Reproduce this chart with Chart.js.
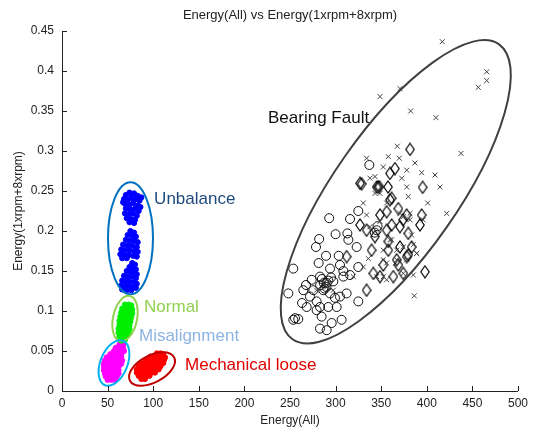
<!DOCTYPE html>
<html>
<head>
<meta charset="utf-8">
<script src="https://cdn.jsdelivr.net/npm/chart.js@4.4.1/dist/chart.umd.min.js"></script>
<style>
  html, body { margin: 0; padding: 0; background: #fff; }
  #plot { display: block; }
</style>
</head>
<body>
<canvas id="plot" width="533" height="432"></canvas>
<script>
// Energy scatter: fault classes by total energy vs 1x+8x rpm energy

const xTicks = [0, 50, 100, 150, 200, 250, 300, 350, 400, 450, 500];
const yTicks = [0, 0.05, 0.1, 0.15, 0.2, 0.25, 0.3, 0.35, 0.4, 0.45];

// Unbalance (three blobs)
const unbalancePts = [
    [70,0.245],[74,0.248],[79,0.247],[83,0.244],[68,0.240],[72,0.239],[77,0.241],[81,0.240],[85,0.238],
    [69,0.234],[74,0.233],[78,0.235],[83,0.232],[86,0.230],[70,0.228],[75,0.227],[80,0.228],[84,0.225],
    [69,0.222],[73,0.221],[78,0.222],[82,0.219],[71,0.216],[76,0.215],[80,0.214],[74,0.211],[79,0.210],
    [67,0.236],[87,0.242],[76,0.244],
    [75,0.200],[79,0.198],[72,0.195],[77,0.194],[81,0.193],[70,0.189],[74,0.188],[79,0.188],[83,0.186],
    [67,0.183],[72,0.182],[77,0.182],[82,0.180],[65,0.177],[69,0.176],[74,0.176],[79,0.175],[83,0.174],
    [64,0.171],[68,0.170],[73,0.170],[78,0.169],[82,0.168],[66,0.166],[71,0.166],
    [77,0.160],[80,0.158],[74,0.155],[78,0.154],[81,0.152],[71,0.150],[75,0.149],[79,0.148],[82,0.146],
    [68,0.144],[72,0.143],[77,0.143],[81,0.141],[66,0.138],[70,0.137],[74,0.137],[79,0.136],[82,0.134],
    [65,0.132],[69,0.131],[73,0.131],[77,0.130],[81,0.129],[66,0.127],[71,0.126],[76,0.126]
];

const normalPts = [
    [69,0.108],[73,0.108],[76,0.107],
    [66,0.103],[70,0.103],[74,0.104],[77,0.102],
    [65,0.098],[69,0.098],[73,0.099],[77,0.097],
    [64,0.093],[68,0.093],[72,0.094],[76,0.092],
    [63,0.088],[67,0.088],[71,0.089],[75,0.087],
    [63,0.083],[67,0.083],[71,0.084],[74,0.082],
    [62,0.078],[66,0.078],[70,0.079],[74,0.077],
    [62,0.073],[66,0.073],[70,0.074],[73,0.072],
    [63,0.068],[67,0.068],[71,0.069],
    [65,0.063],[69,0.064]
];

const misalignPts = [
    [63,0.058],[67,0.058],
    [59,0.054],[63,0.054],[67,0.054],
    [57,0.050],[61,0.050],[65,0.050],[68,0.050],
    [53,0.046],[57,0.046],[61,0.046],[65,0.046],
    [49,0.042],[53,0.042],[57,0.042],[61,0.042],[65,0.042],
    [47,0.038],[51,0.038],[55,0.038],[59,0.038],[63,0.038],[66,0.038],
    [46,0.034],[50,0.034],[54,0.034],[58,0.034],[62,0.034],[65,0.034],
    [46,0.030],[50,0.030],[54,0.030],[58,0.030],[62,0.030],
    [46,0.026],[50,0.026],[54,0.026],[58,0.026],[62,0.026],
    [47,0.022],[51,0.022],[55,0.022],[59,0.022],[62,0.022],
    [48,0.018],[52,0.018],[56,0.018],[60,0.018],
    [50,0.014],[54,0.014],[58,0.014]
];

const loosePts = [
    [104,0.047],[108,0.047],[111,0.046],
    [97,0.043],[101,0.043],[105,0.043],[109,0.043],[113,0.042],
    [92,0.039],[96,0.039],[100,0.039],[104,0.039],[108,0.039],[112,0.039],
    [87,0.035],[91,0.035],[95,0.035],[99,0.035],[103,0.035],[107,0.035],[111,0.035],
    [84,0.031],[88,0.031],[92,0.031],[96,0.031],[100,0.031],[104,0.031],[108,0.031],
    [82,0.027],[86,0.027],[90,0.027],[94,0.027],[98,0.027],[102,0.027],[106,0.027],
    [82,0.023],[86,0.023],[90,0.023],[94,0.023],[98,0.023],[102,0.023],
    [84,0.019],[88,0.019],[92,0.019],[96,0.019],
    [87,0.015],[91,0.015]
];

// Bearing fault, three measurement sets
const bearingO = [
    [337,0.2825],[293,0.216],[315.8,0.215],[324.9,0.225],[300,0.196],[312.9,0.197],[314,0.189],[282,0.19],
    [278.5,0.18],[289.5,0.169],[303.4,0.169],[304.8,0.1575],[293.9,0.153],[281.4,0.16],[253.6,0.153],
    [248.2,0.122],[263.2,0.11],[267.5,0.1325],[273.8,0.139],[282.9,0.143],[290.2,0.135],[297.5,0.137],
    [308.5,0.143],[315.8,0.145],[324.9,0.155],[345,0.201],[346,0.206],[343,0.198],[304.8,0.118],
    [312.1,0.122],[301.2,0.105],[282.9,0.105],[279.2,0.101],[284.7,0.093],[295.7,0.085],[306.6,0.089],
    [282.9,0.078],[290.2,0.076],[253.6,0.089],[259.1,0.09],[255.5,0.091],[324.9,0.112],[271.9,0.118],
    [275.6,0.126],[286.5,0.126],[293.9,0.122],[279.2,0.112],[268.3,0.105],[323.1,0.18],[308.5,0.15],
    [264.6,0.126],[292,0.105],[299.3,0.1165],[287,0.135],[290,0.13],[285,0.14],[292,0.138],[288,0.128],
    [283,0.132],[295,0.142]
];

const bearingD = [
    [326.8,0.2596],[348,0.2554],[361.5,0.241],[381.6,0.302],[365.1,0.278],[395.5,0.2546],[394.4,0.22],
    [368.8,0.228],[356,0.224],[377.9,0.22],[348.7,0.22],[326.8,0.2075],[334,0.201],[343.2,0.193],
    [356,0.201],[361.5,0.2075],[370.6,0.2054],[379.7,0.197],[392.5,0.2075],[398,0.149],[378,0.168],
    [367,0.164],[352.3,0.1575],[348.7,0.143],[341.4,0.147],[334,0.126],[357.8,0.176],[370.6,0.18],
    [383.4,0.18],[363.3,0.143],[374.3,0.147],[312.1,0.168],[357.8,0.187],[339.5,0.176],[374,0.214],
    [359.6,0.239],[345,0.255],[379.7,0.17],[368.8,0.1575],[359.6,0.272],[328.6,0.259],[346.8,0.255],
    [357.5,0.255]
];

const bearingX = [
    [417,0.4366],[465.7,0.399],[465.7,0.388],[456.5,0.3796],[370.6,0.378],[348.7,0.368],[382.3,0.35],
    [410,0.3417],[367.7,0.306],[437.5,0.297],[334,0.291],[357.8,0.293],[352.3,0.28],[387,0.285],
    [394.4,0.273],[409,0.27],[414.5,0.255],[378,0.276],[372.5,0.266],[337.7,0.266],[343.2,0.268],
    [378,0.255],[401,0.235],[421.8,0.222],[379.7,0.243],[383.4,0.195],[389,0.172],[386.3,0.119],
    [396,0.214],[381.6,0.222],[374.2,0.18],[359.6,0.189],[352.3,0.164],[367,0.164],[345,0.143],
    [356,0.139],[374.2,0.147],[348.7,0.247],[369.8,0.291],[330.4,0.235],[334,0.22],[356,0.235],
    [381.6,0.214],[385.2,0.183],[388.9,0.172],[361.5,0.189],[352.3,0.176],[330.4,0.155],[335.9,0.1655],
    [356,0.16],[385.2,0.145],[352.3,0.143],[319.4,0.143],[312.1,0.147],[286.5,0.135],[290.2,0.13],
    [279.2,0.126],[297.5,0.126],[337.7,0.2054],[348.7,0.212],[367,0.176],[378,0.164],[370.6,0.222],
    [374.3,0.218],[343.2,0.247]
];

// group outlines (centre in data units, radii in px)
const groupRings = [
    { cx: 75.1, cy: 0.191, rx: 22.5, ry: 56, rot: 0, color: '#0070C0' },
    { cx: 69.1, cy: 0.0906, rx: 12, ry: 23, rot: 12, color: '#92D050' },
    { cx: 57, cy: 0.035, rx: 13.5, ry: 24, rot: 22, color: '#00B0F0' },
    { cx: 98.7, cy: 0.0275, rx: 25, ry: 13.5, rot: -28, color: '#C00000' },
    { cx: 366, cy: 0.249, rx: 180, ry: 62, rot: -55, color: '#404040' }
];

const groupNotes = [
    { text: 'Unbalance', x: 101, y: 0.240, color: '#1F497D' },
    { text: 'Normal', x: 90, y: 0.104, color: '#92D050' },
    { text: 'Misalignment', x: 84.4, y: 0.068, color: '#8DB4E2' },
    { text: 'Mechanical loose', x: 134.9, y: 0.0325, color: '#E00000' },
    { text: 'Bearing Fault', x: 225.9, y: 0.341, color: '#111111' }
];

const FONT = '"Liberation Sans", Arial, sans-serif';
const toXY = arr => arr.map(p => ({ x: p[0], y: p[1] }));

// tall MATLAB-style diamond marker
function makeDiamond() {
    const c = document.createElement('canvas');
    c.width = 10; c.height = 14;
    const g = c.getContext('2d');
    g.strokeStyle = '#000';
    g.lineWidth = 1.2;
    g.beginPath();
    g.moveTo(5, 1); g.lineTo(9.2, 7); g.lineTo(5, 13); g.lineTo(0.8, 7); g.closePath();
    g.stroke();
    return c;
}

function blob(data, color) {
    return {
        data: toXY(data),
        pointStyle: 'circle',
        pointRadius: 2.6,
        backgroundColor: color,
        borderColor: color,
        borderWidth: 1
    };
}

const ringPlugin = {
    id: 'rings',
    afterDatasetsDraw(chart) {
        const { ctx, scales: { x, y } } = chart;
        ctx.save();
        groupRings.forEach(r => {
            ctx.beginPath();
            ctx.ellipse(x.getPixelForValue(r.cx), y.getPixelForValue(r.cy), r.rx, r.ry,
                r.rot * Math.PI / 180, 0, Math.PI * 2);
            ctx.strokeStyle = r.color;
            ctx.lineWidth = 2;
            ctx.stroke();
        });
        ctx.font = '17px ' + FONT;
        ctx.textAlign = 'left';
        ctx.textBaseline = 'middle';
        groupNotes.forEach(n => {
            ctx.fillStyle = n.color;
            ctx.fillText(n.text, x.getPixelForValue(n.x), y.getPixelForValue(n.y));
        });
        ctx.restore();
    }
};

// inward tick marks, title
const framePlugin = {
    id: 'frame',
    afterDraw(chart) {
        const { ctx, chartArea: a, scales: { x, y } } = chart;
        ctx.save();
        ctx.strokeStyle = '#222';
        ctx.lineWidth = 1;
        ctx.beginPath();
        xTicks.forEach(v => {
            const px = Math.round(x.getPixelForValue(v)) + 0.5;
            ctx.moveTo(px, a.bottom);
            ctx.lineTo(px, a.bottom - 5);
        });
        yTicks.forEach(v => {
            const py = Math.round(y.getPixelForValue(v)) + 0.5;
            ctx.moveTo(a.left, py);
            ctx.lineTo(a.left + 5, py);
        });
        ctx.stroke();
        ctx.fillStyle = '#222';
        ctx.font = '13px ' + FONT;
        ctx.textAlign = 'center';
        ctx.textBaseline = 'middle';
        ctx.fillText('Energy(All) vs Energy(1xrpm+8xrpm)', (a.left + a.right) / 2, 15);
        ctx.restore();
    }
};

new Chart(document.getElementById('plot'), {
    type: 'scatter',
    data: {
        datasets: [
            blob(unbalancePts, '#0000FF'),
            blob(normalPts, '#00EE00'),
            blob(misalignPts, '#FF00FF'),
            blob(loosePts, '#FF0000'),
            {
                data: toXY(bearingX),
                pointStyle: 'crossRot',
                pointRadius: 3.5,
                borderColor: '#444',
                borderWidth: 1
            },
            {
                data: toXY(bearingO),
                pointStyle: 'circle',
                pointRadius: 4.5,
                backgroundColor: 'rgba(0,0,0,0)',
                borderColor: '#111',
                borderWidth: 1
            },
            {
                data: toXY(bearingD),
                pointStyle: makeDiamond(),
                pointRadius: 5
            }
        ]
    },
    options: {
        responsive: false,
        animation: false,
        devicePixelRatio: 1,
        layout: { padding: { top: 31, right: 15, left: 0, bottom: 0 } },
        plugins: { legend: { display: false }, tooltip: { enabled: false } },
        scales: {
            x: {
                type: 'linear',
                min: 0,
                max: 500,
                afterBuildTicks: s => { s.ticks = xTicks.map(v => ({ value: v })); },
                afterFit: s => { s.height = 41; },
                grid: { drawOnChartArea: false, drawTicks: false },
                border: { color: '#222', width: 1 },
                ticks: { padding: 5, color: '#222', font: { family: FONT, size: 12 }, maxRotation: 0,
                         callback: v => String(v) },
                title: { display: true, text: 'Energy(All)', color: '#222',
                         font: { family: FONT, size: 12 }, padding: { top: 0, bottom: 4 } }
            },
            y: {
                type: 'linear',
                min: 0,
                max: 0.45,
                afterBuildTicks: s => { s.ticks = yTicks.map(v => ({ value: v })); },
                afterFit: s => { s.width = 62; },
                grid: { drawOnChartArea: false, drawTicks: false },
                border: { color: '#222', width: 1 },
                ticks: { padding: 8, color: '#222', font: { family: FONT, size: 12 },
                         callback: v => String(+v.toFixed(2)) },
                title: { display: true, text: 'Energy(1xrpm+8xrpm)', color: '#222',
                         font: { family: FONT, size: 12 }, padding: { top: 11, bottom: 0 } }
            }
        }
    },
    plugins: [ringPlugin, framePlugin]
});
</script>
</body>
</html>
